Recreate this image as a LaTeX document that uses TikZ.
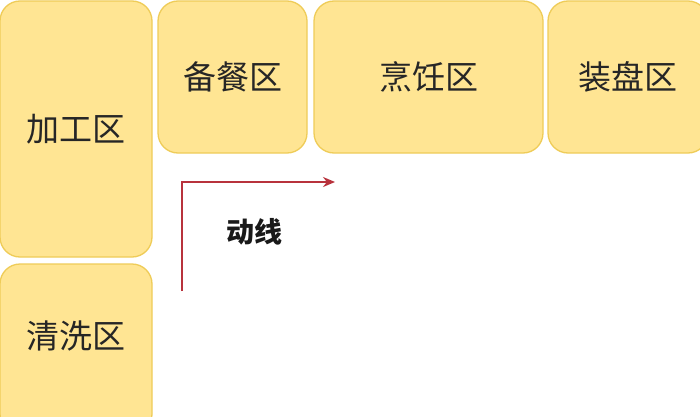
\documentclass[tikz,border=0pt]{standalone}
\usepackage{fontspec}
\newfontfamily\cjk{Noto Sans CJK SC}
\usetikzlibrary{arrows.meta}
\definecolor{zonefill}{HTML}{FFE593}
\definecolor{zoneedge}{HTML}{EFCC58}
\definecolor{flowred}{HTML}{B8323C}
\begin{document}
\begin{tikzpicture}[x=1pt,y=1pt,
  zonetext/.style={font=\cjk\fontsize{33}{33}\selectfont,text=black!85},
  zone/.style={draw=zoneedge,fill=zonefill,line width=1.3pt,rounded corners=20pt,
    inner sep=0pt,zonetext},
  flow/.style={draw=flowred,line width=2pt,-{Stealth[length=12pt,width=10pt]}}]
\useasboundingbox (0,0) rectangle (700,416);
\clip (0,0) rectangle (700,416);
\fill[white] (0,0) rectangle (700,416);
\node[zone,minimum width=152pt,minimum height=256pt] (jg) at (76,416-129) {加工区};
\node[zone,minimum width=152pt,minimum height=170pt] (qx) at (76,416-349) {};
\node[zonetext] (qxt) at (76,416-336) {清洗区};
\node[zone,minimum width=149pt,minimum height=152pt] (bc) at (232.5,416-77) {备餐区};
\node[zone,minimum width=229pt,minimum height=152pt] (pr) at (428.5,416-77) {烹饪区};
\node[zone,minimum width=160pt,minimum height=152pt] (zp) at (628,416-77) {装盘区};
\coordinate (fs) at (182,416-291);
\coordinate (fc) at (182,416-182);
\coordinate (fe) at (335,416-182);
\draw[flow] (fs) -- (fc) -- (fe);
\node[font=\cjk\bfseries\fontsize{28}{28}\selectfont,text=black!90] (dx) at (254,416-232) {动线};
\end{tikzpicture}
\end{document}
